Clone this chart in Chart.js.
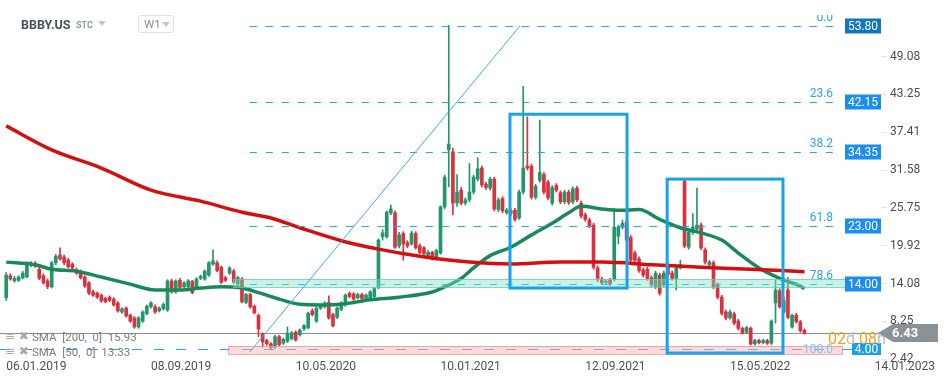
<!DOCTYPE html>
<html>
<head>
<meta charset="utf-8">
<script src="https://cdn.jsdelivr.net/npm/chart.js@4.4.1/dist/chart.umd.min.js"></script>
<style>
  html, body { margin: 0; padding: 0; background: #fff; }
  #wrap { position: relative; width: 949px; height: 384px; overflow: hidden; }
  .t { position: absolute; white-space: pre; font-family: Roboto, sans-serif; }
  .tri { position: absolute; width: 0; height: 0; border-left: 4px solid transparent; border-right: 4px solid transparent; border-top: 5px solid #c6c6c6; }
</style>
</head>
<body>
<div id="wrap">
  <canvas id="chart"></canvas>
  <div class="t" style="left:21px;top:17px;font-size:12.5px;font-weight:bold;color:#47525b">BBBY.US</div>
  <div class="t" style="left:76px;top:20px;font-size:9px;font-weight:bold;color:#8b9bab">STC</div>
  <div class="tri" style="left:98px;top:21px"></div>
  <div style="position:absolute;left:138px;top:15px;width:34px;height:16px;border:1px solid #e1e1e1;border-radius:3px">
    <div class="t" style="left:5px;top:1px;font-size:11.5px;color:#8d8d8d">W1</div>
    <div class="tri" style="left:23px;top:6px"></div>
  </div>
  <div class="t" style="left:5px;top:329px;font:12px 'DejaVu Sans';color:#a8a8a8">≡ ✖</div>
  <div class="t" id="leg1" style="left:32px;top:330px;font-size:11.5px;color:#7c7c7c"></div>
  <div class="t" style="left:5px;top:344px;font:12px 'DejaVu Sans';color:#a8a8a8">≡ ✖</div>
  <div class="t" id="leg2" style="left:32px;top:345px;font-size:11.5px;color:#7c7c7c"></div>
</div>
<script>
// weekly bars; category 1 is the week of 06.01.2019
const FIRST_WEEK = '2018-12-30';
const WEEK_COUNT = 213;
const START_INDEX = 1;

// [open, high, low, close]
const OHLC = [
  [11.9, 15.8, 11.5, 15.4], [15.3, 15.6, 14.6, 14.8], [14.5, 15.2, 14.3, 14.9], [14.6, 15.3, 14.4, 15.1],
  [14.95, 16.0, 14.8, 15.7], [15.1, 17.4, 15.0, 17.1], [17.0, 17.5, 16.7, 17.2], [17.2, 17.5, 16.6, 16.8],
  [16.3, 16.6, 14.7, 14.9], [15.3, 15.6, 14.0, 14.2], [14.5, 14.8, 13.3, 13.6], [13.6, 17.5, 13.4, 17.3],
  [17.3, 18.6, 17.0, 18.3], [18.5, 19.6, 17.7, 17.9], [18.2, 18.5, 17.0, 17.3], [17.7, 18.0, 16.5, 16.7],
  [17.1, 17.3, 16.3, 16.5], [16.2, 16.5, 15.5, 15.7], [15.9, 16.2, 14.8, 14.95], [15.1, 15.3, 13.5, 13.7],
  [14.2, 14.4, 12.4, 12.6], [12.8, 13.1, 12.1, 12.3], [12.6, 12.8, 11.8, 12.0], [12.3, 12.5, 11.2, 11.4],
  [11.8, 12.0, 11.1, 11.3], [12.0, 12.2, 11.3, 11.5], [11.7, 11.9, 10.6, 10.8], [11.1, 11.3, 9.7, 9.9],
  [9.7, 10.4, 9.5, 10.2], [10.3, 10.5, 8.9, 9.1], [9.2, 9.4, 8.1, 8.3], [8.8, 9.0, 7.2, 7.4],
  [7.4, 9.0, 7.2, 8.8], [8.3, 9.9, 8.1, 9.7], [9.5, 10.8, 9.3, 10.6], [10.5, 11.3, 10.3, 11.1],
  [10.5, 10.8, 9.5, 9.7], [9.9, 10.5, 9.7, 10.3], [10.2, 11.1, 10.0, 10.9], [10.0, 14.7, 9.8, 14.5],
  [14.5, 14.8, 12.6, 12.8], [12.8, 14.7, 12.6, 14.5], [14.6, 14.9, 13.3, 13.5], [13.6, 14.4, 13.4, 14.2],
  [13.6, 14.7, 13.4, 14.5], [14.4, 14.6, 12.5, 12.7], [13.5, 15.0, 13.3, 14.8], [14.9, 15.4, 14.7, 15.2],
  [14.8, 16.2, 14.6, 16.0], [15.4, 17.5, 15.2, 17.3], [17.1, 19.3, 16.9, 17.6], [17.3, 17.6, 15.9, 16.1],
  [16.6, 16.8, 14.1, 14.3], [15.0, 15.2, 14.4, 14.6], [15.7, 16.7, 15.5, 16.5], [16.0, 16.3, 14.1, 14.3],
  [14.0, 15.2, 13.8, 15.0], [14.8, 15.0, 11.1, 11.3], [11.2, 12.6, 11.0, 12.4], [12.4, 12.6, 10.3, 10.5],
  [10.6, 10.8, 9.4, 9.6], [9.2, 9.4, 5.9, 7.1], [6.3, 6.5, 4.3, 5.1], [5.3, 5.5, 4.6, 4.8],
  [4.8, 5.0, 3.85, 4.2], [4.3, 6.1, 4.1, 5.9], [5.9, 6.1, 4.5, 4.7], [4.9, 5.7, 4.7, 5.5],
  [5.2, 7.4, 5.0, 6.4], [5.6, 6.7, 5.4, 6.5], [6.6, 6.8, 5.2, 5.4], [6.2, 7.1, 6.0, 6.9],
  [7.1, 7.8, 6.9, 7.6], [7.3, 9.7, 7.1, 9.5], [9.9, 10.2, 9.1, 9.3], [8.3, 10.5, 8.1, 10.3],
  [10.3, 10.9, 10.1, 10.7], [10.5, 11.3, 10.3, 11.1], [11.2, 12.2, 8.6, 8.8], [9.3, 9.5, 7.4, 7.6],
  [8.9, 10.5, 8.7, 10.3], [10.1, 11.3, 9.9, 11.1], [10.8, 12.5, 10.6, 12.3], [12.6, 12.8, 11.9, 12.1],
  [12.5, 12.7, 11.5, 11.7], [11.9, 12.6, 11.7, 12.4], [12.4, 12.6, 11.6, 11.8], [11.8, 12.5, 11.6, 12.3],
  [11.8, 13.0, 11.6, 12.8], [12.1, 13.5, 11.9, 13.3], [13.5, 21.0, 13.3, 20.8], [21.3, 22.4, 20.8, 21.9],
  [21.3, 25.3, 21.1, 25.1], [25.0, 26.2, 24.7, 25.6], [25.0, 25.3, 19.5, 19.7], [19.9, 22.0, 19.6, 21.6],
  [21.8, 22.1, 17.7, 20.2], [20.4, 20.7, 19.6, 19.9], [20.2, 22.2, 20.0, 21.9], [21.8, 22.1, 19.4, 19.6],
  [19.9, 20.2, 18.7, 18.9], [19.6, 19.8, 18.5, 18.7], [18.4, 19.2, 18.2, 18.9], [18.9, 19.1, 17.7, 17.9],
  [17.9, 19.4, 17.7, 19.2], [18.8, 26.1, 18.6, 25.9], [25.9, 30.8, 25.6, 30.5], [34.7, 53.9, 29.0, 35.6],
  [34.4, 35.0, 24.7, 26.5], [26.5, 30.9, 26.0, 28.2], [28.5, 28.9, 26.2, 26.5], [26.5, 27.3, 26.2, 27.0],
  [27.0, 32.6, 26.7, 28.2], [28.2, 30.8, 27.9, 30.5], [30.2, 33.5, 29.9, 31.8], [31.9, 32.2, 29.0, 29.3],
  [29.4, 29.7, 28.6, 28.9], [28.8, 30.5, 28.5, 30.2], [30.2, 30.5, 25.3, 25.6], [25.5, 27.3, 25.2, 27.0],
  [27.2, 27.5, 25.0, 25.3], [25.0, 25.7, 24.8, 25.4], [25.3, 25.6, 24.6, 24.9], [25.4, 25.7, 23.7, 24.0],
  [24.2, 28.5, 24.0, 28.2], [28.2, 44.5, 27.9, 31.9], [32.2, 39.8, 31.6, 31.9], [32.2, 32.5, 27.1, 27.4],
  [27.4, 29.4, 27.1, 29.1], [30.0, 39.3, 29.7, 31.2], [30.9, 31.2, 27.9, 28.2], [29.7, 30.0, 27.0, 27.3],
  [26.5, 29.2, 26.2, 28.9], [29.2, 29.5, 28.2, 28.5], [28.1, 28.4, 26.4, 26.7], [26.7, 28.5, 26.4, 28.2],
  [28.2, 28.5, 26.3, 26.6], [26.7, 29.0, 26.4, 28.7], [28.8, 29.1, 26.7, 27.0], [26.5, 26.8, 24.2, 24.5],
  [24.7, 25.0, 23.7, 24.0], [23.9, 24.2, 22.7, 23.0], [23.1, 23.4, 16.3, 16.6], [16.5, 16.8, 14.4, 14.9],
  [14.8, 15.1, 13.9, 14.2], [14.3, 14.7, 14.0, 14.4], [14.6, 14.9, 13.8, 14.1], [14.8, 25.7, 14.5, 22.8],
  [21.4, 23.1, 20.2, 22.8], [22.8, 23.9, 22.5, 23.4], [23.6, 24.2, 20.5, 20.8], [21.2, 21.5, 17.4, 17.7],
  [18.8, 19.1, 17.4, 17.7], [17.9, 18.2, 15.8, 16.1], [16.2, 16.5, 15.1, 15.4], [16.3, 16.6, 14.6, 14.9],
  [15.0, 15.3, 13.6, 13.9], [13.6, 16.0, 13.3, 15.7], [15.4, 15.7, 12.3, 12.6], [13.9, 16.0, 13.6, 15.7],
  [17.0, 17.3, 15.2, 15.5], [15.7, 16.0, 14.6, 14.9], [14.9, 16.8, 13.1, 16.5], [16.5, 17.7, 16.3, 17.0],
  [29.9, 30.1, 19.6, 19.9], [19.7, 22.3, 19.4, 22.0], [22.0, 24.9, 21.7, 22.8], [22.5, 28.8, 22.2, 23.1],
  [23.1, 23.4, 19.3, 19.6], [19.3, 19.6, 17.1, 17.4], [17.0, 17.7, 16.8, 17.4], [17.3, 17.6, 13.3, 13.6],
  [13.9, 14.2, 11.7, 12.0], [12.0, 12.3, 9.2, 9.5], [9.7, 10.0, 8.5, 8.8], [8.8, 10.0, 8.6, 9.7],
  [9.4, 9.7, 7.7, 8.0], [8.3, 8.6, 6.9, 7.2], [7.2, 7.4, 6.3, 6.5], [6.6, 7.5, 6.4, 7.3],
  [7.2, 7.4, 4.6, 4.8], [4.8, 5.5, 4.6, 5.3], [5.3, 5.5, 4.8, 5.0], [5.0, 5.5, 4.8, 5.3],
  [5.3, 5.5, 4.7, 4.9], [4.9, 8.5, 4.7, 8.3], [11.1, 14.6, 8.0, 13.1], [13.0, 13.3, 10.3, 10.5],
  [9.7, 12.0, 9.5, 11.5], [13.1, 15.0, 8.7, 8.9], [7.4, 9.4, 7.2, 9.2], [9.2, 9.5, 8.0, 8.2],
  [8.2, 8.4, 6.6, 6.8], [6.9, 7.1, 6.3, 6.43]
];

// moving averages: [week index, value]
const SMA200 = [
  [1, 38.4], [12, 34.7], [24, 31.9], [36, 28.5], [48, 26.8], [58, 25.1], [65, 24.2], [72, 22.7],
  [82, 20.7], [91, 19.4], [101, 18.3], [113, 17.4], [123, 17.1], [135, 17.4], [145, 17.4],
  [157, 17.0], [169, 16.6], [181, 16.3], [194, 15.93]
];
const SMA50 = [
  [1, 17.4], [8, 17.0], [12, 16.3], [18, 16.0], [24, 15.1], [31, 14.0], [37, 13.1], [43, 13.1],
  [48, 13.4], [53, 13.6], [58, 13.4], [62, 12.7], [67, 11.7], [72, 10.9], [77, 10.8], [82, 10.9],
  [89, 11.6], [96, 12.0], [104, 12.8], [106, 13.3], [111, 14.9], [114, 16.5], [118, 18.4],
  [123, 19.7], [128, 21.6], [133, 23.4], [137, 25.0], [140, 26.0], [145, 25.6], [149, 25.4],
  [154, 25.5], [159, 24.0], [164, 22.7], [169, 21.9], [174, 20.8], [178, 18.8], [183, 16.5],
  [188, 14.9], [193, 13.7], [194, 13.33]
];
const SMA_LEGEND = ['SMA  [200,  0]  15.93', 'SMA  [50,  0]  13.33'];

const X_TICK_INDEX = [1, 36, 71, 106, 141, 176, 211];
const X_TICK_LABELS = ['06.01.2019', '08.09.2019', '10.05.2020', '10.01.2021', '12.09.2021', '15.05.2022', '14.01.2023'];
const Y_TICKS = [2.42, 8.25, 14.08, 19.92, 25.75, 31.58, 37.41, 43.25, 49.08];
const Y_MIN = 2.31, Y_MAX = 57.81;

const FIB_LEVELS = [53.80, 42.15, 34.35, 23.00, 14.00, 4.00];
const FIB_TAGS = ['0.0', '23.6', '38.2', '61.8', '78.6', '100.0'];
const FIB_SPAN = [59.9, 201.4];
const TREND = [[59.9, 3.54], [125.2, 53.8]];
const ZONE_TEAL = { from: 55.8, to: 203.8, lo: 13.55, hi: 14.8 };
const ZONE_PINK = { from: 54.6, to: 203.1, lo: 3.23, hi: 4.46 };
const BOXES = [
  { from: 122.8, to: 151.1, lo: 13.4, hi: 40.2 },
  { from: 160.8, to: 188.8, lo: 3.38, hi: 30.2 }
];
const LAST_PRICE = 6.43;

const GREEN = '#23966a';
const RED = '#d8313f';
const FIB_BLUE = '#22a5f2';
const FONT = 'Roboto, sans-serif';

document.getElementById('leg1').textContent = SMA_LEGEND[0];
document.getElementById('leg2').textContent = SMA_LEGEND[1];

// week labels
const CATEGORIES = [];
for (let i = 0; i < WEEK_COUNT; i++) {
  const d = new Date(FIRST_WEEK + 'T00:00:00Z');
  d.setUTCDate(d.getUTCDate() + 7 * i);
  const p = n => String(n).padStart(2, '0');
  CATEGORIES.push(p(d.getUTCDate()) + '.' + p(d.getUTCMonth() + 1) + '.' + d.getUTCFullYear());
}

const rowAt = i => OHLC[i - START_INDEX];
const wickData = CATEGORIES.map((_, i) => { const r = rowAt(i); return r ? [r[2], r[1]] : null; });
const bodyData = CATEGORIES.map((_, i) => { const r = rowAt(i); return r ? [r[0], r[3]] : null; });
const candleColor = CATEGORIES.map((_, i) => { const r = rowAt(i); return r && r[3] < r[0] ? RED : GREEN; });
const smaPoints = arr => arr.map(([i, v]) => ({ x: CATEGORIES[i], y: v }));

function hLine(ctx, x1, x2, yy, dash, color) {
  ctx.save();
  ctx.strokeStyle = color;
  ctx.lineWidth = 1;
  ctx.setLineDash(dash);
  ctx.beginPath();
  ctx.moveTo(x1, Math.round(yy) + 0.5);
  ctx.lineTo(x2, Math.round(yy) + 0.5);
  ctx.stroke();
  ctx.restore();
}

// no automatic edge padding: the plot runs from the very top of the canvas
const noPad = s => { s.paddingTop = 0; s.paddingBottom = 0; s.paddingLeft = 0; s.paddingRight = 0; };

const overlay = {
  id: 'overlay',
  beforeDatasetsDraw(chart) {
    const { ctx, chartArea: a, scales: { y } } = chart;
    hLine(ctx, a.left, a.right - 3, y.getPixelForValue(LAST_PRICE), [], '#8e8e8e');
  },
  afterDatasetsDraw(chart) {
    const { ctx, chartArea: a, scales: { x, y } } = chart;
    const fx0 = x.getPixelForValue(FIB_SPAN[0]);
    const fx1 = x.getPixelForValue(FIB_SPAN[1]);

    // fibonacci levels
    FIB_LEVELS.forEach((v, k) => {
      const last = k === FIB_LEVELS.length - 1;
      hLine(ctx, last ? a.left : fx0, fx1, y.getPixelForValue(v), last ? [10, 12] : [7, 9], FIB_BLUE);
    });

    // zones
    [[ZONE_TEAL, 'rgba(125,224,192,0.42)', 'rgba(95,205,170,0.75)'],
     [ZONE_PINK, 'rgba(250,175,175,0.45)', 'rgba(242,150,150,0.8)']].forEach(([z, fill, line]) => {
      const x1 = x.getPixelForValue(z.from), x2 = x.getPixelForValue(z.to);
      const y1 = y.getPixelForValue(z.hi), y2 = y.getPixelForValue(z.lo);
      ctx.save();
      ctx.fillStyle = fill;
      ctx.fillRect(x1, y1, x2 - x1, y2 - y1);
      ctx.strokeStyle = line;
      ctx.lineWidth = 1;
      ctx.strokeRect(Math.round(x1) + 0.5, Math.round(y1) + 0.5, Math.round(x2 - x1), Math.round(y2 - y1));
      ctx.restore();
    });

    // trend line
    ctx.save();
    ctx.strokeStyle = '#3aaef0';
    ctx.lineWidth = 1;
    ctx.beginPath();
    ctx.moveTo(x.getPixelForValue(TREND[0][0]), y.getPixelForValue(TREND[0][1]));
    ctx.lineTo(x.getPixelForValue(TREND[1][0]), y.getPixelForValue(TREND[1][1]));
    ctx.stroke();
    ctx.restore();

    // highlight boxes
    ctx.save();
    ctx.strokeStyle = '#17a3ec';
    ctx.lineWidth = 3;
    BOXES.forEach(b => {
      const x1 = x.getPixelForValue(b.from), x2 = x.getPixelForValue(b.to);
      const y1 = y.getPixelForValue(b.hi), y2 = y.getPixelForValue(b.lo);
      ctx.strokeRect(x1, y1, x2 - x1, y2 - y1);
    });
    ctx.restore();

    // level tags
    ctx.save();
    ctx.beginPath();
    ctx.rect(0, 15, chart.width, chart.height);
    ctx.clip();
    ctx.font = '12px ' + FONT;
    ctx.textAlign = 'right';
    ctx.textBaseline = 'alphabetic';
    FIB_TAGS.forEach((t, k) => {
      const last = k === FIB_TAGS.length - 1;
      ctx.fillStyle = last ? '#7cc6f0' : '#2aa4ea';
      ctx.fillText(t, fx1 - 2, y.getPixelForValue(FIB_LEVELS[k]) - (last ? -4 : 5));
    });
    ctx.restore();

    // price boxes on the axis
    ctx.save();
    ctx.font = '12px ' + FONT;
    ctx.textAlign = 'center';
    ctx.textBaseline = 'middle';
    FIB_LEVELS.forEach((v, k) => {
      const yy = Math.round(y.getPixelForValue(v));
      const last = k === FIB_LEVELS.length - 1;
      const w = last ? 29 : 36, h = last ? 12 : 15;
      const bx = a.right - w;
      if (last) hLine(ctx, x.getPixelForValue(ZONE_PINK.to), bx, yy, [], FIB_BLUE);
      ctx.fillStyle = k === 0 ? '#0f77bf' : (last ? '#1ba0e8' : '#1a8df0');
      ctx.fillRect(bx, yy - h / 2, w, h);
      ctx.fillStyle = '#fff';
      ctx.fillText(v.toFixed(2), bx + w / 2, yy + 0.5);
    });
    ctx.restore();

    // countdown to bar close
    ctx.save();
    ctx.font = '16px ' + FONT;
    ctx.textBaseline = 'alphabetic';
    let cx = 828;
    [['02', '#f6a11c'], ['d ', '#bdbdbd'], ['08', '#f6a11c'], ['h', '#bdbdbd']].forEach(([s, c]) => {
      ctx.fillStyle = c;
      ctx.fillText(s, cx, 344);
      cx += ctx.measureText(s).width;
    });
    ctx.restore();

    // last price marker
    const py = Math.round(y.getPixelForValue(LAST_PRICE));
    ctx.save();
    ctx.fillStyle = '#8b9297';
    ctx.beginPath();
    ctx.moveTo(a.right - 3, py);
    ctx.lineTo(a.right + 12, py - 9);
    ctx.lineTo(a.right + 57, py - 9);
    ctx.lineTo(a.right + 57, py + 9);
    ctx.lineTo(a.right + 12, py + 9);
    ctx.closePath();
    ctx.fill();
    ctx.fillStyle = '#fff';
    ctx.font = 'bold 13px ' + FONT;
    ctx.textAlign = 'left';
    ctx.textBaseline = 'middle';
    ctx.fillText(LAST_PRICE.toFixed(2), a.right + 11, py + 1);
    ctx.restore();
  }
};

new Chart(document.getElementById('chart'), {
  type: 'bar',
  data: {
    labels: CATEGORIES,
    datasets: [
      {
        type: 'line', data: smaPoints(SMA200), borderColor: '#d40f0f', borderWidth: 3.5,
        pointRadius: 0, cubicInterpolationMode: 'monotone', order: 0
      },
      {
        type: 'line', data: smaPoints(SMA50), borderColor: '#188a5a', borderWidth: 3.5,
        pointRadius: 0, cubicInterpolationMode: 'monotone', order: 0
      },
      {
        data: bodyData, backgroundColor: candleColor, barThickness: 3, minBarLength: 1,
        grouped: false, order: 1
      },
      {
        data: wickData, backgroundColor: candleColor, barThickness: 1,
        grouped: false, order: 2
      }
    ]
  },
  options: {
    responsive: true,
    maintainAspectRatio: false,
    animation: false,
    devicePixelRatio: 1,
    events: [],
    layout: { padding: 0, autoPadding: false },
    plugins: { legend: { display: false }, tooltip: { enabled: false } },
    scales: {
      x: {
        offset: true,
        afterFit: s => { s.height = 24; noPad(s); },
        grid: { display: false, drawTicks: false },
        border: { display: false },
        ticks: {
          autoSkip: false, maxRotation: 0, minRotation: 0, align: 'start', padding: 0,
          color: '#505050', font: { family: FONT, size: 12 },
          callback: (v, i) => { const k = X_TICK_INDEX.indexOf(i); return k < 0 ? '' : X_TICK_LABELS[k]; }
        }
      },
      y: {
        position: 'right',
        min: Y_MIN, max: Y_MAX,
        afterBuildTicks: s => { s.ticks = Y_TICKS.map(v => ({ value: v })); },
        afterFit: s => { s.width = 68; noPad(s); },
        grid: { drawOnChartArea: false, drawTicks: true, tickLength: 6, color: '#e4e4e4' },
        border: { display: false },
        ticks: {
          padding: 3, color: '#4d4d4d', font: { family: FONT, size: 12 },
          callback: v => Number(v).toFixed(2)
        }
      }
    }
  },
  plugins: [overlay]
});
</script>
</body>
</html>
